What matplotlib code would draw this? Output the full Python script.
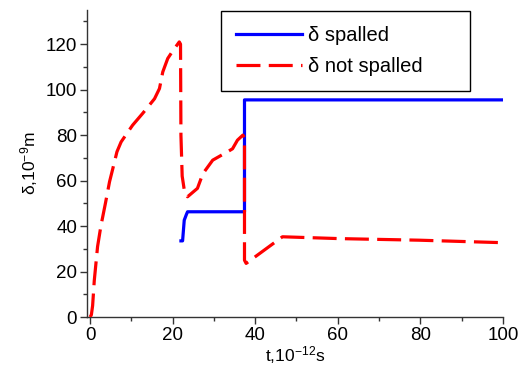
import matplotlib
matplotlib.use("Agg")
import matplotlib.pyplot as plt
from matplotlib.ticker import MultipleLocator

plt.rcParams["font.family"] = ["Liberation Sans", "DejaVu Sans"]
plt.rcParams["mathtext.fontset"] = "custom"
plt.rcParams["mathtext.rm"] = "Liberation Sans"
plt.rcParams["mathtext.default"] = "regular"

# delta, not spalled (red dashed)
t_not = [0, 0.3, 0.6, 1.0, 1.8, 2.6, 3.7, 4.7, 5.4, 6.5, 7.5, 9.0, 10.3, 12.7,
         15.6, 16.8, 17.6, 18.8, 20.0, 21.0, 21.6, 21.9, 22.0, 22.3, 22.8,
         23.6, 26.0, 27.3, 29.7, 33.3, 34.5, 35.7, 37.0, 37.4, 37.4, 37.8,
         46.6, 60.3, 79.7, 100]
d_not = [0, 1, 5, 16, 31, 40, 50, 59.5, 64.6, 72.7, 77, 81, 84.4, 89.5,
         96, 100.5, 107.8, 113.7, 117, 119.5, 121, 120, 80, 62, 56,
         52.9, 56.6, 63, 69, 72.7, 74, 77.8, 80, 79, 25, 23.6,
         35.3, 34.5, 33.8, 32.7]

# delta, spalled (blue solid)
t_sp = [22.0, 22.4, 22.8, 23.3, 23.6, 37.4, 37.4, 100]
d_sp = [33.5, 33.5, 42.6, 45, 46.3, 46.3, 95.5, 95.5]

fig = plt.figure(figsize=(5.2, 3.73), dpi=100)
ax = fig.add_axes([0.167, 0.150, 0.800, 0.823])

ax.plot(t_sp, d_sp, color="#0000ff", lw=2.3, label="δ spalled", zorder=2)
ax.plot(t_not, d_not, color="#ff0000", lw=2.3, dashes=(7.5, 2.6),
        label="δ not spalled", zorder=3)

ax.set_xlim(-0.8, 100)
ax.set_ylim(0, 135)
ax.xaxis.set_major_locator(MultipleLocator(20))
ax.xaxis.set_minor_locator(MultipleLocator(10))
ax.yaxis.set_major_locator(MultipleLocator(20))
ax.yaxis.set_minor_locator(MultipleLocator(10))
ax.set_yticks(range(0, 121, 20))

for s in ("top", "right"):
    ax.spines[s].set_visible(False)
for s in ("left", "bottom"):
    ax.spines[s].set_color("#333333")
    ax.spines[s].set_linewidth(1.0)

ax.tick_params(which="major", direction="out", length=5, width=1,
               labelsize=13.5, color="#333333", pad=2)
ax.tick_params(which="minor", direction="out", length=3, width=1,
               color="#333333")

ax.set_xlabel("t,10$^{-12}$s", fontsize=12.5, labelpad=0)
ax.set_ylabel("δ,10$^{-9}$m", fontsize=12.5, labelpad=4)

leg = ax.legend(loc="upper left", bbox_to_anchor=(0.322, 0.74, 0.6, 0.257),
                mode="expand", fontsize=14.5, handlelength=3.3,
                handletextpad=0.3, borderpad=0.75, labelspacing=0.6,
                fancybox=False, framealpha=1, edgecolor="black",
                borderaxespad=0)
leg.get_frame().set_linewidth(1.0)

fig.savefig("out.png", dpi=100)
